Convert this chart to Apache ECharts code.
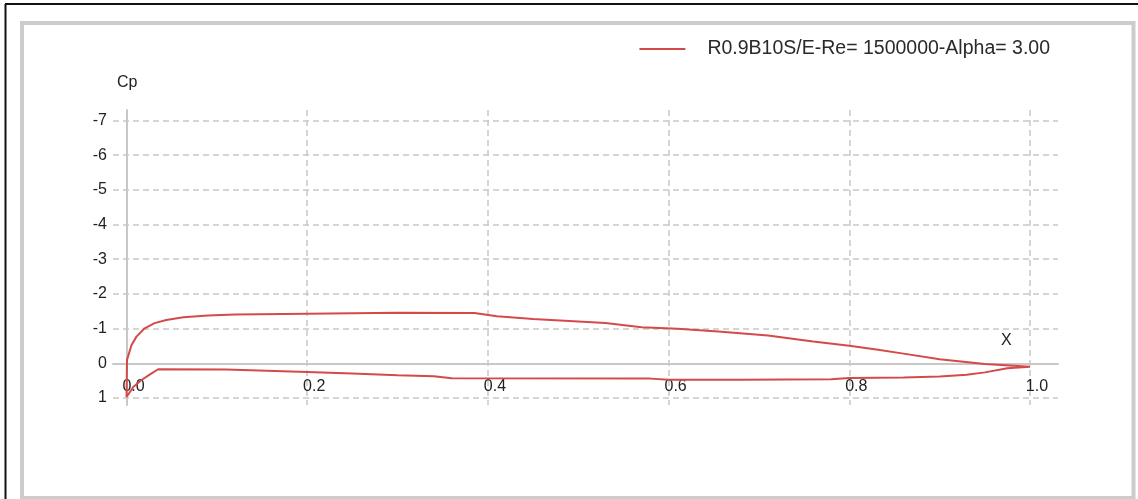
<!DOCTYPE html>
<html>
<head>
<meta charset="utf-8">
<script src="https://cdn.jsdelivr.net/npm/echarts@6/dist/echarts.min.js"></script>
<style>
  html, body {margin: 0; padding: 0; background: #fff;}
  #chart {width: 1138px; height: 499px;}
</style>
</head>
<body>
<div id="chart"></div>
<script>
const SERIES_NAME = 'R0.9B10S/E-Re= 1500000-Alpha= 3.00';

// upper surface, leading edge -> trailing edge
const upperX = [0, 0.0005, 0.0055, 0.011, 0.02, 0.031, 0.044, 0.063, 0.09, 0.12, 0.2, 0.3, 0.385, 0.41, 0.45, 0.49, 0.53, 0.57, 0.61, 0.655, 0.71, 0.76, 0.8, 0.83, 0.86, 0.9, 0.95, 1.0];
const upperCp = [0.97, -0.1, -0.53, -0.77, -1.01, -1.16, -1.25, -1.33, -1.38, -1.41, -1.43, -1.46, -1.45, -1.36, -1.28, -1.22, -1.16, -1.04, -1.0, -0.92, -0.8, -0.63, -0.51, -0.4, -0.28, -0.12, 0.02, 0.1];

// lower surface, leading edge -> trailing edge
const lowerX = [0, 0.0074, 0.0166, 0.026, 0.035, 0.11, 0.2, 0.25, 0.3, 0.34, 0.36, 0.58, 0.6, 0.68, 0.78, 0.8, 0.86, 0.9, 0.93, 0.95, 0.975, 1.0];
const lowerCp = [0.97, 0.68, 0.48, 0.32, 0.17, 0.18, 0.25, 0.29, 0.34, 0.37, 0.43, 0.44, 0.47, 0.47, 0.46, 0.42, 0.41, 0.38, 0.33, 0.26, 0.14, 0.1];

const xTicks = [0, 0.2, 0.4, 0.6, 0.8, 1.0];
const yTicks = [-7, -6, -5, -4, -3, -2, -1, 0, 1];

const FONT = '"Liberation Sans", Arial, sans-serif';

let data = [];
for (let i = upperX.length - 1; i >= 0; i--) {
  data.push([upperX[i], upperCp[i]]);
}
for (let i = 1; i < lowerX.length; i++) {
  data.push([lowerX[i], lowerCp[i]]);
}

const gridLine = {
  show: true,
  lineStyle: {color: '#c8c8c8', width: 1.5, type: [6, 4]},
};

const option = {
  backgroundColor: '#fff',
  animation: false,
  textStyle: {fontFamily: FONT},
  title: [
    {text: 'Cp', left: 112, top: 70, textStyle: {fontSize: 16, fontWeight: 'normal', color: '#222', fontFamily: FONT}},
    {text: 'X', left: 996, top: 328, textStyle: {fontSize: 16, fontWeight: 'normal', color: '#222', fontFamily: FONT}},
  ],
  legend: {
    right: 83,
    top: 34,
    itemWidth: 46,
    itemHeight: 14,
    itemStyle: {opacity: 0},
    textStyle: {fontSize: 19.5, color: '#2a2a2a', padding: [0, 0, 0, 17], fontFamily: FONT},
  },
  grid: {left: 113, right: 80, top: 110, bottom: 94},
  xAxis: {
    type: 'value',
    min: -0.015,
    max: 1.031,
    axisLine: {show: true, onZero: true, lineStyle: {color: '#c8c8c8', width: 2}},
    axisTick: {show: false, customValues: xTicks},
    axisLabel: {
      customValues: xTicks,
      fontSize: 16,
      color: '#222',
      margin: -26,
      padding: [0, 0, 0, 14],
      formatter: v => v.toFixed(1),
    },
    splitLine: gridLine,
  },
  yAxis: {
    type: 'value',
    inverse: true,
    min: -7.3,
    max: 1.2,
    axisLine: {show: true, onZero: true, lineStyle: {color: '#c8c8c8', width: 2}},
    axisTick: {show: false, customValues: yTicks},
    axisLabel: {
      customValues: yTicks,
      fontSize: 16,
      color: '#222',
      margin: 6,
    },
    splitLine: gridLine,
  },
  series: [
    {
      name: SERIES_NAME,
      type: 'line',
      symbol: 'none',
      lineStyle: {color: '#d44a4a', width: 2},
      itemStyle: {color: '#d44a4a'},
      data: data,
    },
  ],
  graphic: [
    {type: 'rect', silent: true, shape: {x: 22, y: 23, width: 1111.5, height: 475}, style: {fill: 'none', stroke: '#cccccc', lineWidth: 4}},
    {type: 'line', silent: true, shape: {x1: 5, y1: 4, x2: 1138, y2: 4}, style: {stroke: '#111', lineWidth: 2}},
    {type: 'line', silent: true, shape: {x1: 5.5, y1: 4, x2: 5.5, y2: 499}, style: {stroke: '#111', lineWidth: 2}},
  ],
};

const chart = echarts.init(document.getElementById('chart'), null, {renderer: 'canvas'});
chart.setOption(option);
</script>
</body>
</html>
